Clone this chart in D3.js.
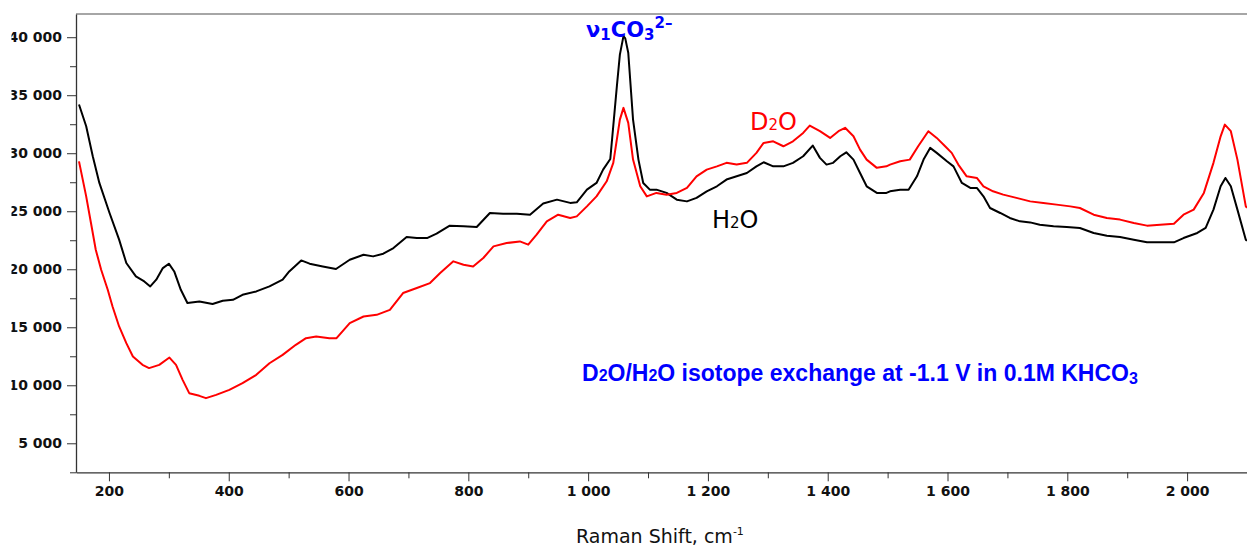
<!DOCTYPE html>
<html>
<head>
<meta charset="utf-8">
<script src="https://cdn.jsdelivr.net/npm/d3@7"></script>
<style>
    body { margin: 0; background: #fff; }
    svg { display: block; }
    .axis text { font-family: "DejaVu Sans", Verdana, sans-serif; font-weight: bold; font-size: 14px; fill: #111; }
    .axis path, .axis line { stroke: #333; }
</style>
</head>
<body>
<svg></svg>
<script>
// Raman shift (cm-1) and intensity, H2O spectrum (black)
var shiftH2O = [150, 162, 173, 184, 201, 217, 229, 245, 259, 269, 279, 290, 300, 309, 320, 331, 351, 373, 390, 407,
    423, 446, 468, 490, 501, 521, 535, 557, 579, 602, 625, 641, 658, 675, 697, 714, 731, 747, 769, 792,
    814, 836, 858, 881, 903, 925, 948, 970, 981, 998, 1014, 1025, 1037, 1048, 1053, 1059, 1062, 1067, 1075, 1084,
    1092, 1103, 1114, 1131, 1148, 1165, 1181, 1198, 1215, 1231, 1248, 1265, 1281, 1293, 1309, 1326, 1342, 1359, 1375, 1387,
    1398, 1409, 1421, 1431, 1443, 1454, 1465, 1482, 1498, 1504, 1521, 1535, 1549, 1560, 1571, 1582, 1599, 1610, 1624, 1638,
    1649, 1660, 1671, 1688, 1704, 1721, 1738, 1754, 1777, 1799, 1821, 1844, 1866, 1888, 1911, 1933, 1955, 1978, 1994, 2017,
    2031, 2044, 2056, 2064, 2073, 2084, 2098, 2100];
var intH2O = [34200, 32330, 29740, 27440, 24850, 22550, 20540, 19380, 18950, 18520, 19100, 20100, 20480, 19810, 18230, 17090, 17230, 17000, 17280, 17370,
    17800, 18090, 18520, 19100, 19810, 20760, 20480, 20240, 20020, 20820, 21250, 21110, 21340, 21830, 22780, 22690, 22690, 23070, 23760, 23700,
    23640, 24850, 24790, 24790, 24700, 25660, 26000, 25720, 25770, 26860, 27440, 28590, 29500, 35780, 38500, 40090, 39900, 38660, 32900, 29450,
    27440, 26860, 26860, 26580, 26000, 25850, 26150, 26720, 27150, 27730, 28010, 28300, 28870, 29220, 28870, 28870, 29170, 29740, 30660, 29600,
    29020, 29170, 29740, 30080, 29450, 28300, 27150, 26580, 26580, 26720, 26860, 26860, 28010, 29450, 30460, 30030, 29310, 28870, 27440, 27010,
    27010, 26290, 25280, 24850, 24420, 24130, 24040, 23840, 23700, 23640, 23560, 23130, 22890, 22780, 22550, 22320, 22320, 22320, 22690, 23130,
    23560, 25140, 27150, 27870, 27150, 25140, 22550, 22450];

// D2O spectrum (red)
var shiftD2O = [150, 162, 170, 178, 187, 198, 206, 217, 229, 240, 256, 267, 284, 301, 312, 323, 334, 351, 362, 379,
    401, 423, 446, 468, 490, 512, 529, 546, 568, 580, 602, 625, 647, 669, 691, 714, 736, 753, 775, 792,
    808, 825, 842, 864, 886, 900, 914, 931, 950, 970, 981, 998, 1014, 1031, 1042, 1053, 1059, 1067, 1075, 1087,
    1098, 1114, 1131, 1148, 1165, 1181, 1198, 1215, 1231, 1248, 1265, 1281, 1293, 1309, 1326, 1342, 1359, 1370, 1387, 1404,
    1418, 1429, 1443, 1454, 1465, 1482, 1498, 1504, 1521, 1537, 1551, 1568, 1582, 1596, 1607, 1618, 1632, 1649, 1660, 1676,
    1693, 1715, 1738, 1760, 1782, 1805, 1821, 1844, 1866, 1888, 1911, 1933, 1955, 1978, 1994, 2011, 2028, 2044, 2056, 2063,
    2073, 2084, 2098, 2100];
var intD2O = [29300, 26280, 23990, 21680, 19960, 18230, 16790, 15070, 13630, 12480, 11760, 11480, 11760, 12390, 11760, 10470, 9320, 9090, 8890, 9170,
    9600, 10180, 10900, 11900, 12620, 13490, 14060, 14200, 14060, 14060, 15360, 15930, 16070, 16500, 17950, 18380, 18810, 19670, 20680, 20390,
    20240, 20970, 21970, 22260, 22400, 22120, 22980, 24130, 24700, 24420, 24560, 25420, 26280, 27580, 29170, 32900, 33910, 32620, 29450, 27150,
    26280, 26580, 26430, 26580, 27010, 28010, 28590, 28870, 29170, 29020, 29170, 30030, 30890, 31030, 30600, 31030, 31750, 32380, 31900, 31320,
    31900, 32190, 31460, 30310, 29450, 28740, 28870, 29020, 29310, 29450, 30600, 31900, 31320, 30600, 30030, 29020, 28010, 27870, 27150, 26720,
    26430, 26150, 25850, 25720, 25570, 25420, 25280, 24700, 24420, 24280, 23990, 23760, 23840, 23930, 24700, 25140, 26580, 29170, 31460, 32470,
    31900, 29450, 25420, 25300];

var xMajorTicks = [200, 400, 600, 800, 1000, 1200, 1400, 1600, 1800, 2000];
var xMinorTicks = [300, 500, 700, 900, 1100, 1300, 1500, 1700, 1900, 2100];
var yMajorTicks = [5000, 10000, 15000, 20000, 25000, 30000, 35000, 40000];
var yMinorTicks = [2500, 7500, 12500, 17500, 22500, 27500, 32500, 37500];

var width = 1247, height = 546;
var plot = {left: 76, top: 14, right: 1247, bottom: 472.3};

var svg = d3.select("svg")
    .attr("width", width)
    .attr("height", height);

var fmt = d3.formatLocale({decimal: ".", thousands: " ", grouping: [3], currency: ["", ""]}).format(",d");

var x = d3.scaleLinear()
    .domain([145, 2100])
    .range([plot.left, plot.right]);

var y = d3.scaleLinear()
    .domain([2500, 42000])
    .range([plot.bottom, plot.top]);

svg.append("clipPath")
    .attr("id", "plotClip")
    .append("rect")
    .attr("x", plot.left)
    .attr("y", plot.top)
    .attr("width", plot.right - plot.left)
    .attr("height", plot.bottom - plot.top);

// the left labels are cut by the picture edge
svg.append("clipPath")
    .attr("id", "labelClip")
    .append("rect")
    .attr("x", 11.5)
    .attr("y", 0)
    .attr("width", width)
    .attr("height", height);

// top frame line
svg.append("line")
    .attr("x1", plot.left)
    .attr("x2", plot.right)
    .attr("y1", plot.top)
    .attr("y2", plot.top)
    .attr("stroke", "#888")
    .attr("stroke-width", 1.5);

// y axis
svg.append("g")
    .attr("class", "axis")
    .attr("transform", "translate(" + plot.left + ",0)")
    .call(d3.axisLeft(y).tickValues(yMinorTicks).tickSize(6).tickSizeOuter(0).tickFormat(""))
    .call(function (g) { g.select(".domain").remove(); });

var yAxis = svg.append("g")
    .attr("clip-path", "url(#labelClip)")
    .append("g")
    .attr("class", "axis")
    .attr("transform", "translate(" + plot.left + ",0)")
    .call(d3.axisLeft(y).tickValues(yMajorTicks).tickSize(9).tickSizeOuter(0).tickPadding(5).tickFormat(fmt));
yAxis.select(".domain").attr("stroke", "#555").attr("stroke-width", 1.3);

// x axis
svg.append("g")
    .attr("class", "axis")
    .attr("transform", "translate(0," + plot.bottom + ")")
    .call(d3.axisBottom(x).tickValues(xMinorTicks).tickSize(6).tickSizeOuter(0).tickFormat(""))
    .call(function (g) { g.select(".domain").remove(); });

var xAxis = svg.append("g")
    .attr("class", "axis")
    .attr("transform", "translate(0," + plot.bottom + ")")
    .call(d3.axisBottom(x).tickValues(xMajorTicks).tickSize(9).tickSizeOuter(0).tickPadding(5).tickFormat(fmt));
xAxis.select(".domain").attr("stroke", "#111").attr("stroke-width", 1.3);

// spectra
var line = d3.line()
    .x(function (d) { return x(d[0]); })
    .y(function (d) { return y(d[1]); });

var plotG = svg.append("g").attr("clip-path", "url(#plotClip)");

plotG.append("path")
    .datum(d3.zip(shiftH2O, intH2O))
    .attr("fill", "none")
    .attr("stroke", "#000")
    .attr("stroke-width", 2)
    .attr("stroke-linejoin", "round")
    .attr("d", line);

plotG.append("path")
    .datum(d3.zip(shiftD2O, intD2O))
    .attr("fill", "none")
    .attr("stroke", "#ff0000")
    .attr("stroke-width", 2)
    .attr("stroke-linejoin", "round")
    .attr("d", line);

// labels
var nu = svg.append("text")
    .attr("x", 586)
    .attr("y", 37)
    .attr("fill", "#0000ff")
    .style("font-family", "'DejaVu Sans', Verdana, sans-serif")
    .style("font-weight", "bold")
    .style("font-size", "21px");
nu.append("tspan").text("ν");
nu.append("tspan").attr("font-size", "15px").attr("dy", 3).text("1");
nu.append("tspan").attr("dy", -3).text("CO");
nu.append("tspan").attr("font-size", "15px").attr("dy", 3).text("3");
nu.append("tspan").attr("font-size", "15px").attr("dy", -12).text("2\u2013");

function chem(x0, y0, color, parts) {
    var t = svg.append("text")
        .attr("x", x0)
        .attr("y", y0)
        .attr("fill", color)
        .style("font-family", "'DejaVu Sans', Tahoma, sans-serif")
        .style("font-size", "24px");
    t.append("tspan").text(parts[0]);
    t.append("tspan").attr("font-size", "15px").text(parts[1]);
    t.append("tspan").text(parts[2]);
}
chem(750, 130, "#ff0000", ["D", "2", "O"]);
chem(712, 228, "#000", ["H", "2", "O"]);

var note = svg.append("text")
    .attr("x", 582)
    .attr("y", 381)
    .attr("fill", "#0000ff")
    .style("font-family", "'Liberation Sans', Arial, sans-serif")
    .style("font-weight", "bold")
    .style("font-size", "23px");
note.append("tspan").text("D");
note.append("tspan").attr("font-size", "16px").text("2");
note.append("tspan").text("O/H");
note.append("tspan").attr("font-size", "16px").text("2");
note.append("tspan").text("O isotope exchange at -1.1 V in 0.1M KHCO");
note.append("tspan").attr("font-size", "16px").attr("dy", 3).text("3");

var title = svg.append("text")
    .attr("x", 576)
    .attr("y", 543)
    .attr("fill", "#111")
    .style("font-family", "'DejaVu Sans', Tahoma, sans-serif")
    .style("font-size", "19px");
title.append("tspan").text("Raman Shift, cm");
title.append("tspan").attr("font-size", "11px").attr("dy", -8).text("-1");
</script>
</body>
</html>
